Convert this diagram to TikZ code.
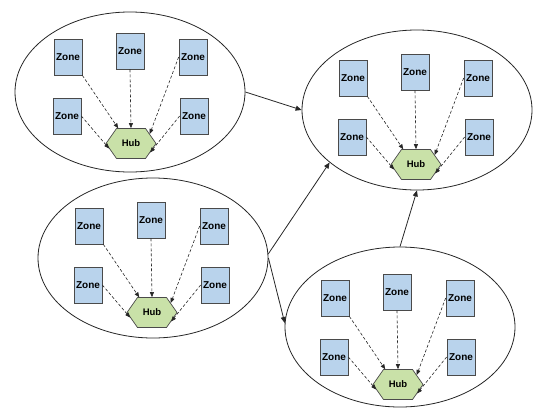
\documentclass[tikz,border=0pt]{standalone}
\usepackage{fontspec}
\setmainfont{Liberation Sans}
\usetikzlibrary{shapes.geometric,shapes.symbols,arrows.meta,calc}
\definecolor{zonefill}{HTML}{B9D3EC}
\definecolor{hubfill}{HTML}{C9E1A8}
\definecolor{edgegray}{HTML}{4A4A4A}
\begin{document}
\begin{tikzpicture}[x=1pt,y=-1pt,
  cluster/.style={ellipse,draw=black!85,line width=0.8pt,minimum width=230pt,minimum height=160pt,inner sep=0pt},
  zone/.style={draw=edgegray,fill=zonefill,line width=0.7pt,minimum width=28pt,minimum height=36pt,inner sep=0pt,font=\bfseries\fontsize{10}{11}\selectfont},
  hub/.style={signal,signal to=east and west,signal pointer angle=110,draw=edgegray,fill=hubfill,line width=0.7pt,minimum width=50pt,minimum height=30pt,inner sep=0pt,font=\bfseries\fontsize{9.5}{11}\selectfont},
  link/.style={densely dashed,-{Triangle[length=5pt,width=4pt]},line width=0.6pt,black!85},
  flow/.style={-{Triangle[length=6pt,width=5pt]},line width=0.8pt,black!85}]
\useasboundingbox (0,0) rectangle (551,415);
\foreach \n/\ex/\ey/\gx/\gy in {A/130/92/131/86.5, B/153/258/152/255.5, C/417/110/416/107.5, D/400/327/398/327.5}{
  \node[cluster] (\n) at (\ex,\ey) {};
  \node[zone] (\n tl) at (\gx-63,\gy-29.5) {Zone};
  \node[zone] (\n tm) at (\gx-1,\gy-35.5) {Zone};
  \node[zone] (\n tr) at (\gx+62,\gy-29.5) {Zone};
  \node[zone] (\n bl) at (\gx-64,\gy+29.5) {Zone};
  \node[zone] (\n br) at (\gx+63,\gy+29.5) {Zone};
  \node[hub] (\n hub) at (\gx,\gy+57) {Hub};
  \draw[link] (\n tl.south east) -- (\n hub.130);
  \draw[link] (\n tm.south) -- (\n hub.north);
  \draw[link] (\n tr.west) -- (\n hub.27);
  \draw[link] (\n bl.east) -- (\n hub.193);
  \draw[link] (\n br.west) -- (\n hub.335);
}
\draw[flow] (A.east) -- (C.west);
\draw[flow] (B.2) -- (C.211);
\draw[flow] (B.0) -- (D.178);
\draw[flow] (D.north) -- (C.south);
\end{tikzpicture}
\end{document}
